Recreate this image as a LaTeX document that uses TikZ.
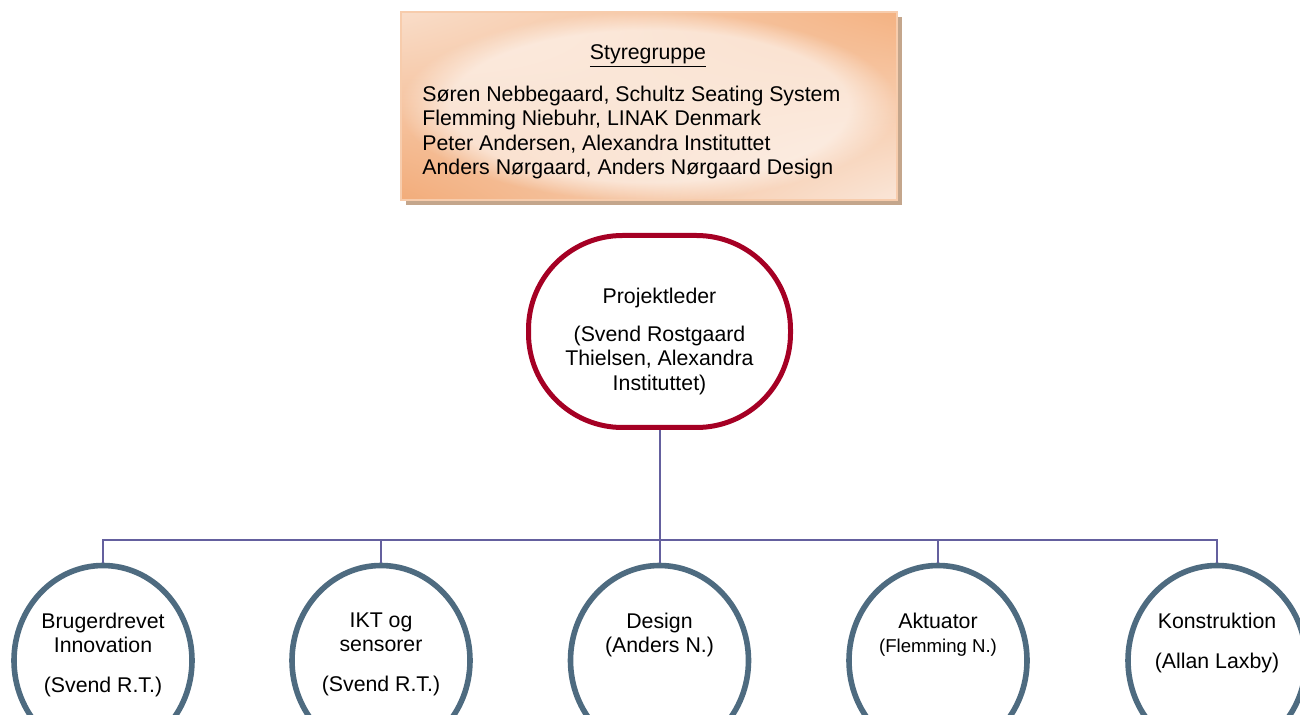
\documentclass[tikz,border=0pt]{standalone}
\usepackage{fontspec}
\setmainfont{Liberation Sans}
\usetikzlibrary{shapes.geometric,shadows,shadings,fadings}

\definecolor{leadred}{RGB}{165,0,36}
\definecolor{teamblue}{RGB}{78,107,128}
\definecolor{linkpurple}{RGB}{100,96,158}
\definecolor{sgshadow}{RGB}{196,166,140}
\definecolor{sgborder}{RGB}{247,204,172}
\definecolor{sgul}{RGB}{249,221,201}
\definecolor{sgur}{RGB}{244,178,130}
\definecolor{sgll}{RGB}{242,172,122}
\definecolor{sglr}{RGB}{250,230,216}

\newcommand\mainfnt{\fontsize{10.65}{12.25}\selectfont}
\newcommand\smallfnt{\fontsize{9.3}{12.25}\selectfont}

\tikzset{
  txt/.style={font=\mainfnt, align=center, inner sep=0pt},
  sgbox/.style={rectangle, draw=sgborder, line width=0.6pt,
    minimum width=248pt, minimum height=94pt,
    shading=bilinear interpolation,
    upper left=sgul, upper right=sgur,
    lower left=sgll, lower right=sglr,
    drop shadow={shadow xshift=2.5pt, shadow yshift=-2.5pt,
      fill=sgshadow, opacity=1}},
  leadnode/.style={rectangle, rounded corners=47pt, draw=leadred,
    line width=2.5pt, minimum width=131pt, minimum height=96pt, fill=white},
  teamnode/.style={ellipse, draw=teamblue, line width=2.8pt,
    minimum width=89pt, minimum height=95pt, fill=white},
  link/.style={draw=linkpurple, line width=1pt}
}

\begin{document}
\begin{tikzpicture}[x=0.5pt, y=-0.5pt]
  \useasboundingbox (0,0) rectangle (1300,715);

  % styregruppe
  \node[sgbox] (sg) at (649,106) {};
  \fill[white, opacity=0.55, path fading=circle with fuzzy edge 20 percent]
    (sg.south west) rectangle (sg.north east);
  \node[txt, anchor=north] (sgtitle) at (648,44.4) {\underline{Styregruppe}};
  \node[txt, align=left, anchor=north west] (sgmembers) at (422,85.4)
    {Søren Nebbegaard, Schultz Seating System\\
     Flemming Niebuhr, LINAK Denmark\\
     Peter Andersen, Alexandra Instituttet\\
     Anders Nørgaard, Anders Nørgaard Design};

  % projektleder
  \node[leadnode] (lead) at (659.5,331.5) {};
  \node[txt, anchor=north] (leadtxt) at (659.5,287.4)
    {Projektleder\\[6.75pt](Svend Rostgaard\\Thielsen, Alexandra\\Instituttet)};

  % delprojekter
  \node[teamnode] (bruger) at (103,660.5) {};
  \node[teamnode] (ikt) at (381,660.5) {};
  \node[teamnode] (design) at (659.5,660.5) {};
  \node[teamnode] (aktuator) at (938,660.5) {};
  \node[teamnode] (konstruktion) at (1217,660.5) {};

  \node[txt, anchor=north] (brugertxt) at (103,612.4)
    {Brugerdrevet\\Innovation\\[7.75pt](Svend R.T.)};
  \node[txt, anchor=north] (ikttxt) at (381,612.4)
    {IKT og\\sensorer\\[7.75pt](Svend R.T.)};
  \node[txt, anchor=north] (designtxt) at (659.5,612.4)
    {Design\\(Anders N.)};
  \node[txt, anchor=north] (aktuatortxt) at (938,612.4)
    {Aktuator\\{\smallfnt (Flemming N.)}};
  \node[txt, anchor=north] (konstruktiontxt) at (1217,612.4)
    {Konstruktion\\[7.75pt](Allan Laxby)};

  % forbindelser
  \coordinate (bus) at (659.5,540);
  \draw[link] (lead.south) -- (bus);
  \foreach \team in {bruger,ikt,design,aktuator,konstruktion}
    \draw[link] (bus) -| (\team.north);
\end{tikzpicture}
\end{document}
